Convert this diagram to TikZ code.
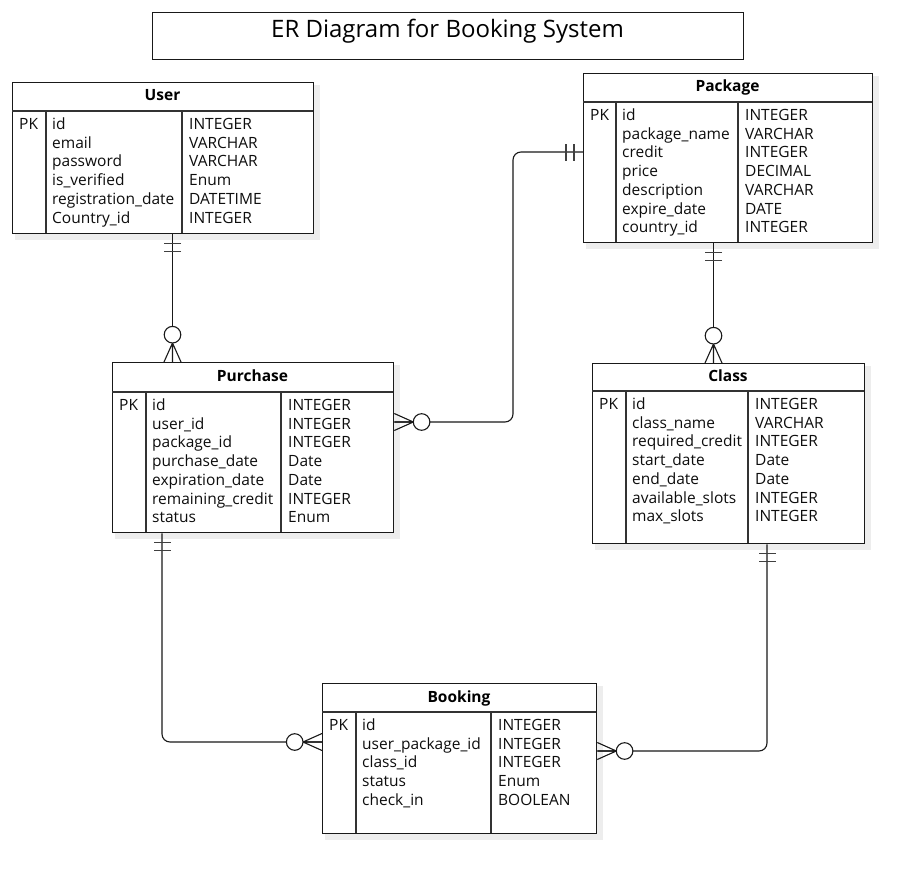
\documentclass[tikz,border=0pt]{standalone}
\usepackage{fontspec}
\setmainfont{Open Sans}
\usetikzlibrary{calc}
\tikzset{
  tbl/.style={draw=black!90, line width=1.3pt, fill=white, rectangle, inner sep=0pt, anchor=north west},
  inner/.style={draw=black!80, line width=1.3pt},
  shadowbox/.style={fill=black!7},
  hdr/.style={anchor=base, inner sep=0pt, font=\fontsize{15.5}{18}\selectfont\bfseries, text=black},
  cell/.style={anchor=base west, inner sep=0pt, font=\fontsize{15.5}{18}\selectfont, text=black!95},
  conn/.style={draw=black!90, line width=1.1pt, rounded corners=8pt},
  barline/.style={draw=black!75, line width=1.3pt},
  footline/.style={draw=black!90, line width=1.1pt},
  circ/.style={draw=black!90, line width=1.1pt, fill=white}
}
% table: name, x0, y0, x1, y1, header line y, column 1 x, column 2 x, title
\newcommand\ertable[9]{%
  \fill[shadowbox] (#2+3,#3+3) rectangle (#4+7,#5+7);
  \node[tbl, minimum width=#4pt-#2pt, minimum height=#5pt-#3pt] (#1) at (#2,#3) {};
  \draw[inner] (#2,#6) -- (#4,#6) (#7,#6) -- (#7,#5) (#8,#6) -- (#8,#5);
  \node[hdr] (#1-title) at ({(#2+#4)/2},{(#3+#6)/2+4.5}) {#9};
  \def\ertn{#1}\def\ertx{#2}\def\ertc{#7}\def\ertd{#8}\def\erth{#6}%
}
% row: index, key, field, type
\newcommand\errow[4]{%
  \if\relax\detokenize{#2}\relax\else
    \node[cell] (\ertn-key#1) at ({\ertx+7},{\erth+18.5+18.7*#1}) {#2};
  \fi
  \node[cell] (\ertn-field#1) at ({\ertc+6},{\erth+18.5+18.7*#1}) {#3};
  \node[cell] (\ertn-type#1) at ({\ertd+7},{\erth+18.5+18.7*#1}) {#4};
}
% mandatory one: point, outward angle
\newcommand\eronebars[2]{%
  \begin{scope}[shift={#1}, rotate=#2]
    \draw[barline] (9,-8.5) -- (9,8.5) (17,-8.5) -- (17,8.5);
  \end{scope}}
% zero or many: point, outward angle
\newcommand\erzeromany[2]{%
  \begin{scope}[shift={#1}, rotate=#2]
    \draw[footline] (19,0) -- (0,8.5) (19,0) -- (0,-8.5) (19,0) -- (0,0);
    \draw[circ] (27.3,0) circle (8.3);
  \end{scope}}

\begin{document}
\begin{tikzpicture}[x=1pt,y=-1pt]
\fill[white] (0,0) rectangle (922,883);
\useasboundingbox (0,0) rectangle (922,883);

% title
\node[draw=black!90, line width=1.3pt, fill=white, minimum width=591pt, minimum height=47pt, anchor=north west, inner sep=0pt] (titlebox) at (152,12) {};
\node[anchor=base, inner sep=0pt, font=\fontsize{24}{28}\selectfont, text=black] (title) at (447.5,38) {ER Diagram for Booking System};

% User
\ertable{user}{12}{82}{313}{233}{111}{46}{182}{User}
\errow{0}{PK}{id}{INTEGER}
\errow{1}{}{email}{VARCHAR}
\errow{2}{}{password}{VARCHAR}
\errow{3}{}{is\_verified}{Enum}
\errow{4}{}{registration\_date}{DATETIME}
\errow{5}{}{Country\_id}{INTEGER}

% Package
\ertable{package}{583}{73}{872}{242}{102}{616}{738}{Package}
\errow{0}{PK}{id}{INTEGER}
\errow{1}{}{package\_name}{VARCHAR}
\errow{2}{}{credit}{INTEGER}
\errow{3}{}{price}{DECIMAL}
\errow{4}{}{description}{VARCHAR}
\errow{5}{}{expire\_date}{DATE}
\errow{6}{}{country\_id}{INTEGER}

% Purchase
\ertable{purchase}{112}{362}{393}{532}{392}{146}{281}{Purchase}
\errow{0}{PK}{id}{INTEGER}
\errow{1}{}{user\_id}{INTEGER}
\errow{2}{}{package\_id}{INTEGER}
\errow{3}{}{purchase\_date}{Date}
\errow{4}{}{expiration\_date}{Date}
\errow{5}{}{remaining\_credit}{INTEGER}
\errow{6}{}{status}{Enum}

% Class
\ertable{class}{592}{363}{864}{543}{391}{626}{748}{Class}
\errow{0}{PK}{id}{INTEGER}
\errow{1}{}{class\_name}{VARCHAR}
\errow{2}{}{required\_credit}{INTEGER}
\errow{3}{}{start\_date}{Date}
\errow{4}{}{end\_date}{Date}
\errow{5}{}{available\_slots}{INTEGER}
\errow{6}{}{max\_slots}{INTEGER}

% Booking
\ertable{booking}{322}{683}{596}{833}{712}{356}{491}{Booking}
\errow{0}{PK}{id}{INTEGER}
\errow{1}{}{user\_package\_id}{INTEGER}
\errow{2}{}{class\_id}{INTEGER}
\errow{3}{}{status}{Enum}
\errow{4}{}{check\_in}{BOOLEAN}

% connectors
\draw[conn] ([xshift=160.5pt]user.south west) -- ([xshift=60.5pt]purchase.north west);
\draw[conn] ([yshift=-79pt]package.north west) -- ++(-70,0) |- ([yshift=-60pt]purchase.north east);
\draw[conn] ([xshift=130.5pt]package.south west) -- ([xshift=121.5pt]class.north west);
\draw[conn] ([xshift=50pt]purchase.south west) |- ([yshift=-59pt]booking.north west);
\draw[conn] ([xshift=175pt]class.south west) |- ([yshift=-68pt]booking.north east);

% end marks
\eronebars{([xshift=160.5pt]user.south west)}{-90}
\erzeromany{([xshift=60.5pt]purchase.north west)}{90}
\eronebars{([yshift=-79pt]package.north west)}{180}
\erzeromany{([yshift=-60pt]purchase.north east)}{0}
\eronebars{([xshift=130.5pt]package.south west)}{-90}
\erzeromany{([xshift=121.5pt]class.north west)}{90}
\eronebars{([xshift=50pt]purchase.south west)}{-90}
\erzeromany{([yshift=-59pt]booking.north west)}{180}
\eronebars{([xshift=175pt]class.south west)}{-90}
\erzeromany{([yshift=-68pt]booking.north east)}{0}
\end{tikzpicture}
\end{document}
